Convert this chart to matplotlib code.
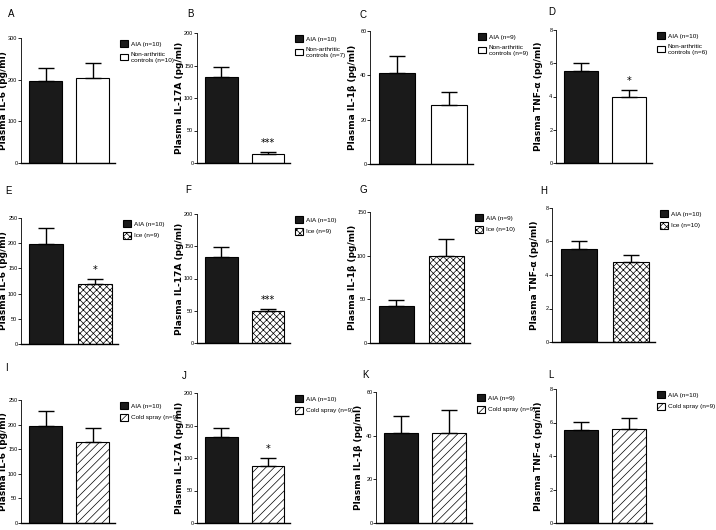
import matplotlib.pyplot as plt
from matplotlib.patches import Patch
import numpy as np

plt.rcParams['hatch.linewidth'] = 0.5
narrow = ['Liberation Sans Narrow', 'Liberation Sans', 'DejaVu Sans']

W, H = 716, 530

# Data
letters = ['A', 'B', 'C', 'D', 'E', 'F', 'G', 'H', 'I', 'J', 'K', 'L']
ylabels = ['Plasma IL-6 (pg/ml)', 'Plasma IL-17A (pg/ml)', 'Plasma IL-1β (pg/ml)', 'Plasma TNF-α (pg/ml)'] * 3
ymax = [300, 200, 60, 8, 250, 200, 150, 8, 250, 200, 60, 8]
ystep = [100, 50, 20, 2, 50, 50, 50, 2, 50, 50, 20, 2]
aia_mean = [198, 133, 41, 5.56, 199, 134, 42, 5.55, 198, 132, 41.3, 5.56]
aia_err = [30, 14, 7.6, 0.48, 31, 15, 7.5, 0.45, 30, 14, 7.6, 0.45]
comp_mean = [204, 14.5, 26.6, 3.94, 120, 49, 100, 4.75, 165, 88, 41, 5.62]
comp_err = [36, 2.5, 5.8, 0.44, 9, 3.5, 19, 0.47, 29, 12, 10.6, 0.64]
aia_n = [10, 10, 9, 10, 10, 10, 9, 10, 10, 10, 9, 10]
comp_labels = ['Non-arthritic\ncontrols (n=10)', 'Non-arthritic\ncontrols (n=7)',
               'Non-arthritic\ncontrols (n=9)', 'Non-arthritic\ncontrols (n=6)',
               'Ice (n=9)', 'Ice (n=9)', 'Ice (n=10)', 'Ice (n=10)',
               'Cold spray (n=9)', 'Cold spray (n=9)', 'Cold spray (n=9)', 'Cold spray (n=9)']
stars = ['', '***', '', '*', '*', '***', '', '', '', '*', '', '']

# panel boxes in pixels: left, right, top (ymax), bottom (zero)
boxes = [(21, 115, 38, 163), (197, 290, 33, 163), (370, 473, 31, 164), (556, 652, 30, 163),
         (21, 118, 218, 344), (197, 290, 214, 343), (370, 470, 212, 343), (552, 655, 208, 342),
         (21, 115, 400, 523), (197, 290, 393, 523), (376, 472, 392, 523), (556, 652, 389, 523)]
letter_pos = [(8, 14), (187, 14), (360, 15), (548, 12),
              (5, 191), (185, 190), (359, 190), (540, 191),
              (5, 368), (182, 376), (362, 375), (548, 375)]

comp_style = [('white', '')] * 4 + [('white', 'xxxxx')] * 4 + [('white', '////')] * 4

fig = plt.figure(figsize=(W / 100, H / 100), dpi=100)

for i in range(12):
    l, r, t, b = boxes[i]
    ax = fig.add_axes([l / W, 1 - b / H, (r - l) / W, (b - t) / H])
    fc, hatch = comp_style[i]
    ax.bar([0], [aia_mean[i]], width=0.7, color='#1a1a1a', edgecolor='black', linewidth=0.8)
    ax.bar([1], [comp_mean[i]], width=0.7, color=fc, edgecolor='black', hatch=hatch, linewidth=0.8)
    ax.errorbar([0, 1], [aia_mean[i], comp_mean[i]], yerr=[[0, 0], [aia_err[i], comp_err[i]]],
                fmt='none', ecolor='black', elinewidth=1.0, capsize=6, capthick=1.0)
    if stars[i]:
        ax.text(1, comp_mean[i] + comp_err[i] + ymax[i] * 0.03, stars[i], ha='center', va='bottom',
                fontsize=7)
    ax.set_xlim(-0.52, 1.47)
    ax.set_ylim(0, ymax[i])
    ax.set_yticks(np.arange(0, ymax[i] + ystep[i] / 2, ystep[i]))
    ax.set_xticks([])
    ax.spines['top'].set_visible(False)
    ax.spines['right'].set_visible(False)
    ax.spines['left'].set_linewidth(0.6)
    ax.spines['bottom'].set_linewidth(1.0)
    ax.tick_params(axis='y', labelsize=4.0, length=2, width=0.6, pad=0.6)
    for lab in ax.get_yticklabels():
        lab.set_family(narrow)

    fig.text((l - 17.5) / W, 1 - (t + b) / 2 / H, ylabels[i], rotation=90, ha='center', va='center',
             fontsize=6.5, fontweight='bold')
    fig.text(letter_pos[i][0] / W, 1 - letter_pos[i][1] / H, letters[i], ha='left', va='center',
             fontsize=7, family=narrow)

    handles = [Patch(facecolor='#1a1a1a', edgecolor='black', linewidth=0.8, label=f'AIA (n={aia_n[i]})'),
               Patch(facecolor=fc, edgecolor='black', hatch=hatch, linewidth=0.8, label=comp_labels[i])]
    fig.legend(handles=handles, loc='upper left', bbox_to_anchor=((r + 5) / W, 1 - (t + 2) / H),
               frameon=False, prop={'family': narrow, 'size': 4.6}, handlelength=1.3,
               handleheight=1.3, handletextpad=0.35, labelspacing=0.75, borderaxespad=0, borderpad=0)

fig.savefig('out.png', dpi=100)
